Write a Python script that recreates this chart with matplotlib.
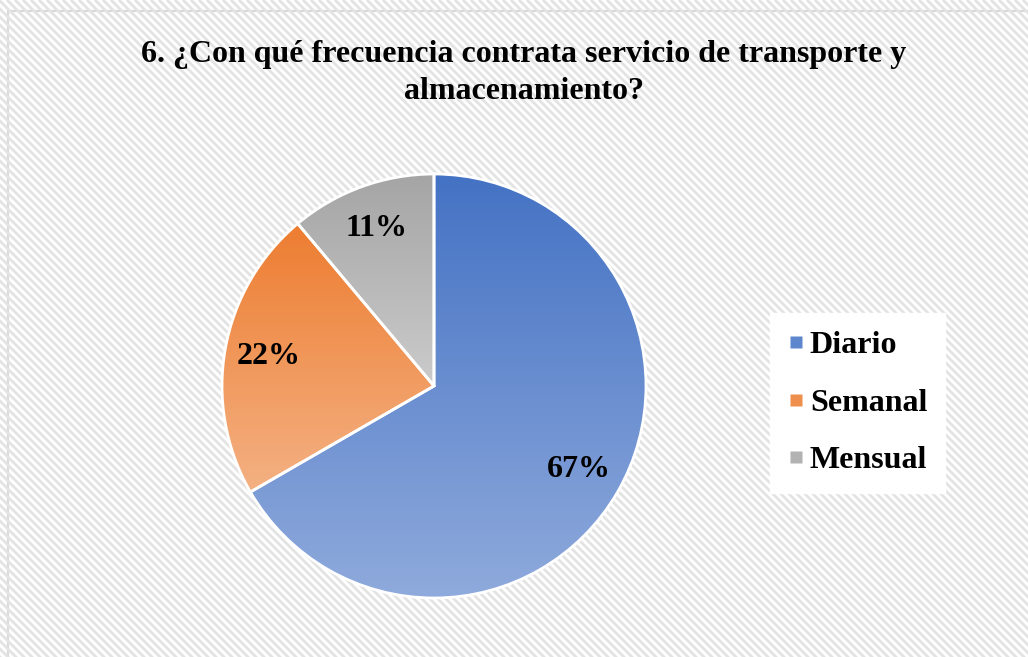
import numpy as np
import matplotlib
matplotlib.use("Agg")
import matplotlib.pyplot as plt
from matplotlib.colors import LinearSegmentedColormap
from matplotlib.collections import LineCollection
from matplotlib.lines import Line2D
from matplotlib.patches import Rectangle

# ---- data ----
title = "6. ¿Con qué frecuencia contrata servicio de transporte y\nalmacenamiento?"
categories = ["Diario", "Semanal", "Mensual"]
values = [6, 2, 1]
top_colors = ["#4472C4", "#ED7D31", "#A5A5A5"]
bottom_colors = ["#8FAADC", "#F4B183", "#CBCBCB"]

W, H = 1028, 657
fig = plt.figure(figsize=(W / 100, H / 100), dpi=100)
fig.patch.set_facecolor("white")

# ---- background: hatched chart area with border ----
bx0, by0 = 8, 11  # top-left of chart area in pixels
bg_ax = fig.add_axes([0, 0, 1, 1], zorder=-5)
bg_ax.set_xlim(0, W)
bg_ax.set_ylim(H, 0)
bg_ax.axis("off")
clip = Rectangle((bx0, by0), W + 10, H + 10, facecolor="white",
                 edgecolor="#d9d9d9", linewidth=1.5)
bg_ax.add_patch(clip)
period = 8.0
segs = []
c = -H
while c < W + H:
    segs.append([(c, 0), (c + H + 20, H + 20)])
    c += period
lc = LineCollection(segs, colors="#e3e3e3", linewidths=2.0)
lc.set_clip_path(clip)
bg_ax.add_collection(lc)
bg_ax.add_patch(Rectangle((bx0, by0), W + 10, H + 10, facecolor="none",
                          edgecolor="#d9d9d9", linewidth=1.5))

# ---- pie ----
cx, cy, r = 434, 386, 212
ax = fig.add_axes([(cx - r) / W, (H - cy - r) / H, 2 * r / W, 2 * r / H])
ax.set_xlim(-1, 1)
ax.set_ylim(-1, 1)
ax.axis("off")

wedges, texts, autotexts = ax.pie(
    values, startangle=90, counterclock=False, radius=1, center=(0, 0),
    autopct="%1.0f%%", pctdistance=0.79,
    wedgeprops=dict(edgecolor="white", linewidth=2.0),
    textprops=dict(fontsize=23, fontweight="bold", family="Liberation Serif",
                   color="black"),
    frame=False)
ax.set_xlim(-1, 1)
ax.set_ylim(-1, 1)

grad = np.linspace(0, 1, 256).reshape(-1, 1)
for w, tc, bc in zip(wedges, top_colors, bottom_colors):
    ext = w.get_path().get_extents()
    cmap = LinearSegmentedColormap.from_list("g", [tc, bc])
    im = ax.imshow(grad, cmap=cmap, aspect="auto",
                   extent=[ext.x0, ext.x1, ext.y0, ext.y1], origin="upper",
                   zorder=1)
    im.set_clip_path(w)
    w.set_facecolor("none")
    w.set_zorder(2)
for t in autotexts:
    t.set_zorder(5)

# ---- legend ----
handles = [Line2D([], [], marker="s", linestyle="none", markersize=8.5,
                  markerfacecolor=LinearSegmentedColormap.from_list("g", [tc, bc])(0.35),
                  markeredgecolor="none")
           for tc, bc in zip(top_colors, bottom_colors)]
leg = fig.legend(handles, categories, loc="center left",
                 bbox_to_anchor=(770 / W, 1 - 403 / H),
                 prop=dict(family="Liberation Serif", weight="bold", size=23),
                 frameon=True, fancybox=False, edgecolor="white",
                 facecolor="white", framealpha=1, labelspacing=0.88,
                 handletextpad=0.2, handlelength=0.5, borderpad=0.55,
                 borderaxespad=0)

# ---- title ----
fig.text(524 / W, 1 - 73 / H, title, ha="center", va="center",
         fontsize=23, fontweight="bold", family="Liberation Serif",
         linespacing=1.33)

fig.savefig("out.png", dpi=100)
